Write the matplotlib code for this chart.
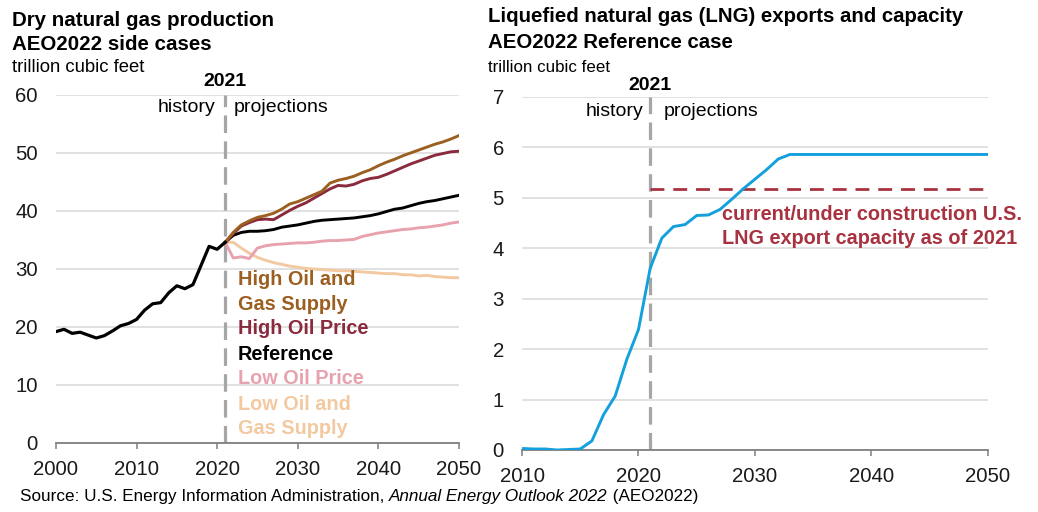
import matplotlib
matplotlib.use("Agg")
import matplotlib.pyplot as plt

plt.rcParams['font.family'] = ['Liberation Sans', 'DejaVu Sans']

# --- dry natural gas production (trillion cubic feet) ---
hist_years = list(range(2000, 2022))
hist_prod = [19.2, 19.6, 18.9, 19.1, 18.6, 18.1, 18.5, 19.3, 20.2, 20.6,
             21.3, 22.9, 24.0, 24.2, 25.9, 27.1, 26.6, 27.3, 30.6, 33.9,
             33.4, 34.6]
proj_years = list(range(2021, 2051))
reference = [34.6, 35.8, 36.3, 36.5, 36.5, 36.6, 36.8, 37.2, 37.4, 37.6,
             37.9, 38.2, 38.4, 38.5, 38.6, 38.7, 38.8, 39.0, 39.2, 39.5,
             39.9, 40.3, 40.5, 40.9, 41.3, 41.6, 41.8, 42.1, 42.4, 42.7]
high_oil_gas = [34.6, 36.3, 37.6, 38.3, 38.9, 39.2, 39.6, 40.3, 41.2, 41.6,
                42.2, 42.8, 43.4, 44.8, 45.3, 45.6, 46.0, 46.6, 47.1, 47.8,
                48.4, 48.9, 49.5, 50.0, 50.5, 51.0, 51.5, 51.9, 52.4, 53.0]
high_oil_price = [34.6, 36.1, 37.4, 38.0, 38.5, 38.6, 38.5, 39.3, 40.1, 40.8,
                  41.4, 42.2, 43.0, 43.8, 44.4, 44.3, 44.6, 45.2, 45.6, 45.8,
                  46.3, 46.9, 47.5, 48.1, 48.6, 49.1, 49.6, 49.9, 50.2, 50.3]
low_oil_price = [34.6, 31.9, 32.1, 31.8, 33.6, 34.0, 34.2, 34.3, 34.4, 34.5,
                 34.5, 34.6, 34.8, 34.9, 34.9, 35.0, 35.1, 35.6, 35.9, 36.2,
                 36.4, 36.6, 36.8, 36.9, 37.1, 37.2, 37.4, 37.6, 37.9, 38.1]
low_oil_gas = [34.6, 34.6, 33.6, 32.7, 32.0, 31.5, 31.1, 30.8, 30.5, 30.3,
               30.1, 30.0, 29.9, 29.8, 29.7, 29.7, 29.6, 29.5, 29.4, 29.3,
               29.2, 29.2, 29.0, 29.0, 28.8, 28.9, 28.7, 28.6, 28.5, 28.5]

case_names = ['High Oil and\nGas Supply', 'High Oil Price', 'Reference',
              'Low Oil Price', 'Low Oil and\nGas Supply']
case_colors = ['#9c5f22', '#8a2b3d', '#000000', '#e8a2ad', '#f2c9a0']

# --- LNG exports (trillion cubic feet) ---
lng_years = list(range(2010, 2051))
lng_exports = [0.03, 0.02, 0.02, 0.0, 0.01, 0.02, 0.18, 0.70, 1.07, 1.80,
               2.39, 3.60, 4.20, 4.43, 4.47, 4.65, 4.66, 4.77, 4.97, 5.18,
               5.37, 5.56, 5.77, 5.86] + [5.86] * 17
lng_capacity = 5.18

fig = plt.figure(figsize=(10.38, 5.12), dpi=100)

grid_col = '#d9d9d9'
spine_col = '#7f7f7f'
dash_col = '#a6a6a6'


def style_axes(ax):
    for s in ['top', 'right', 'left']:
        ax.spines[s].set_visible(False)
    ax.spines['bottom'].set_color(spine_col)
    ax.spines['bottom'].set_linewidth(1.3)
    ax.yaxis.grid(True, color=grid_col, linewidth=1.1)
    ax.set_axisbelow(True)
    ax.tick_params(axis='y', length=0, pad=13, labelsize=14.7, colors='#1a1a1a')
    ax.tick_params(axis='x', direction='out', length=4, width=1.1,
                   color=spine_col, pad=8, labelsize=14.7, labelcolor='#1a1a1a')


# left panel
ax1 = fig.add_axes([0.0539, 0.1348, 0.3882, 0.6797])
style_axes(ax1)
ax1.set_xlim(2000, 2050)
ax1.set_ylim(0, 60)
ax1.set_xticks(range(2000, 2051, 10))
ax1.set_yticks(range(0, 61, 10))
ax1.axvline(2021, color=dash_col, lw=2.3, linestyle=(0, (5.5, 2.6)), zorder=1)

series = [high_oil_gas, high_oil_price, reference, low_oil_price, low_oil_gas]
for vals, c in zip(series[::-1], case_colors[::-1]):
    ax1.plot(proj_years, vals, color=c, lw=2.1, solid_joinstyle='round', zorder=3)
ax1.plot(hist_years, hist_prod, color='black', lw=2.3, zorder=4)

ax1.text(2021, 60.9, '2021', ha='center', va='bottom', fontsize=14, fontweight='bold')
ax1.text(2019.8, 57.9, 'history', ha='right', va='center', fontsize=14)
ax1.text(2022.0, 57.9, 'projections', ha='left', va='center', fontsize=14)

label_y = [28.1, 19.7, 15.3, 11.2, 6.7]
for name, c, yv in zip(case_names, case_colors, label_y):
    lines = name.split('\n')
    for i, ln in enumerate(lines):
        ax1.text(2022.6, yv - i * 4.15, ln, color=c, fontsize=14.3,
                 fontweight='bold', ha='left', va='center')

# right panel
ax2 = fig.add_axes([0.5029, 0.1211, 0.4489, 0.6895])
style_axes(ax2)
ax2.set_xlim(2010, 2050)
ax2.set_ylim(0, 7)
ax2.set_xticks(range(2010, 2051, 10))
ax2.set_yticks(range(0, 8))
ax2.axvline(2021, color=dash_col, lw=2.3, linestyle=(0, (5.5, 2.6)), zorder=1)
ax2.plot(lng_years, lng_exports, color='#14a0dc', lw=2.1, zorder=3)
ax2.plot([2021, 2050], [lng_capacity, lng_capacity], color='#a8323f', lw=2.0,
         linestyle=(0, (5, 3.2)), zorder=2)

ax2.text(2021, 7.06, '2021', ha='center', va='bottom', fontsize=14, fontweight='bold')
ax2.text(2020.4, 6.72, 'history', ha='right', va='center', fontsize=14)
ax2.text(2022.2, 6.72, 'projections', ha='left', va='center', fontsize=14)
ax2.text(2027.2, 4.66, 'current/under construction U.S.', color='#a8323f',
         fontsize=14.3, fontweight='bold', ha='left', va='center')
ax2.text(2027.2, 4.19, 'LNG export capacity as of 2021', color='#a8323f',
         fontsize=14.3, fontweight='bold', ha='left', va='center')

# titles
fig.text(12 / 1038, 1 - 20 / 512, 'Dry natural gas production', fontsize=14.8,
         fontweight='bold', va='center')
fig.text(12 / 1038, 1 - 45 / 512, 'AEO2022 side cases', fontsize=14.8,
         fontweight='bold', va='center')
fig.text(12 / 1038, 1 - 68 / 512, 'trillion cubic feet', fontsize=13.3, va='center')

fig.text(488 / 1038, 1 - 16 / 512, 'Liquefied natural gas (LNG) exports and capacity',
         fontsize=14.7, fontweight='bold', va='center')
fig.text(488 / 1038, 1 - 43 / 512, 'AEO2022 Reference case', fontsize=14.7,
         fontweight='bold', va='center')
fig.text(488 / 1038, 1 - 68 / 512, 'trillion cubic feet', fontsize=12.2, va='center')

# source line with italic title
renderer = fig.canvas.get_renderer()
src_y = 1 - 497 / 512
parts = [('Source: U.S. Energy Information Administration, ', 'normal'),
         ('Annual Energy Outlook 2022', 'italic'),
         (' (AEO2022)', 'normal')]
x_px = 20
for txt, st in parts:
    t = fig.text(x_px / 1038, src_y, txt, fontsize=12.3, style=st, va='center')
    x_px += t.get_window_extent(renderer).width

fig.savefig('out.png', dpi=100)
